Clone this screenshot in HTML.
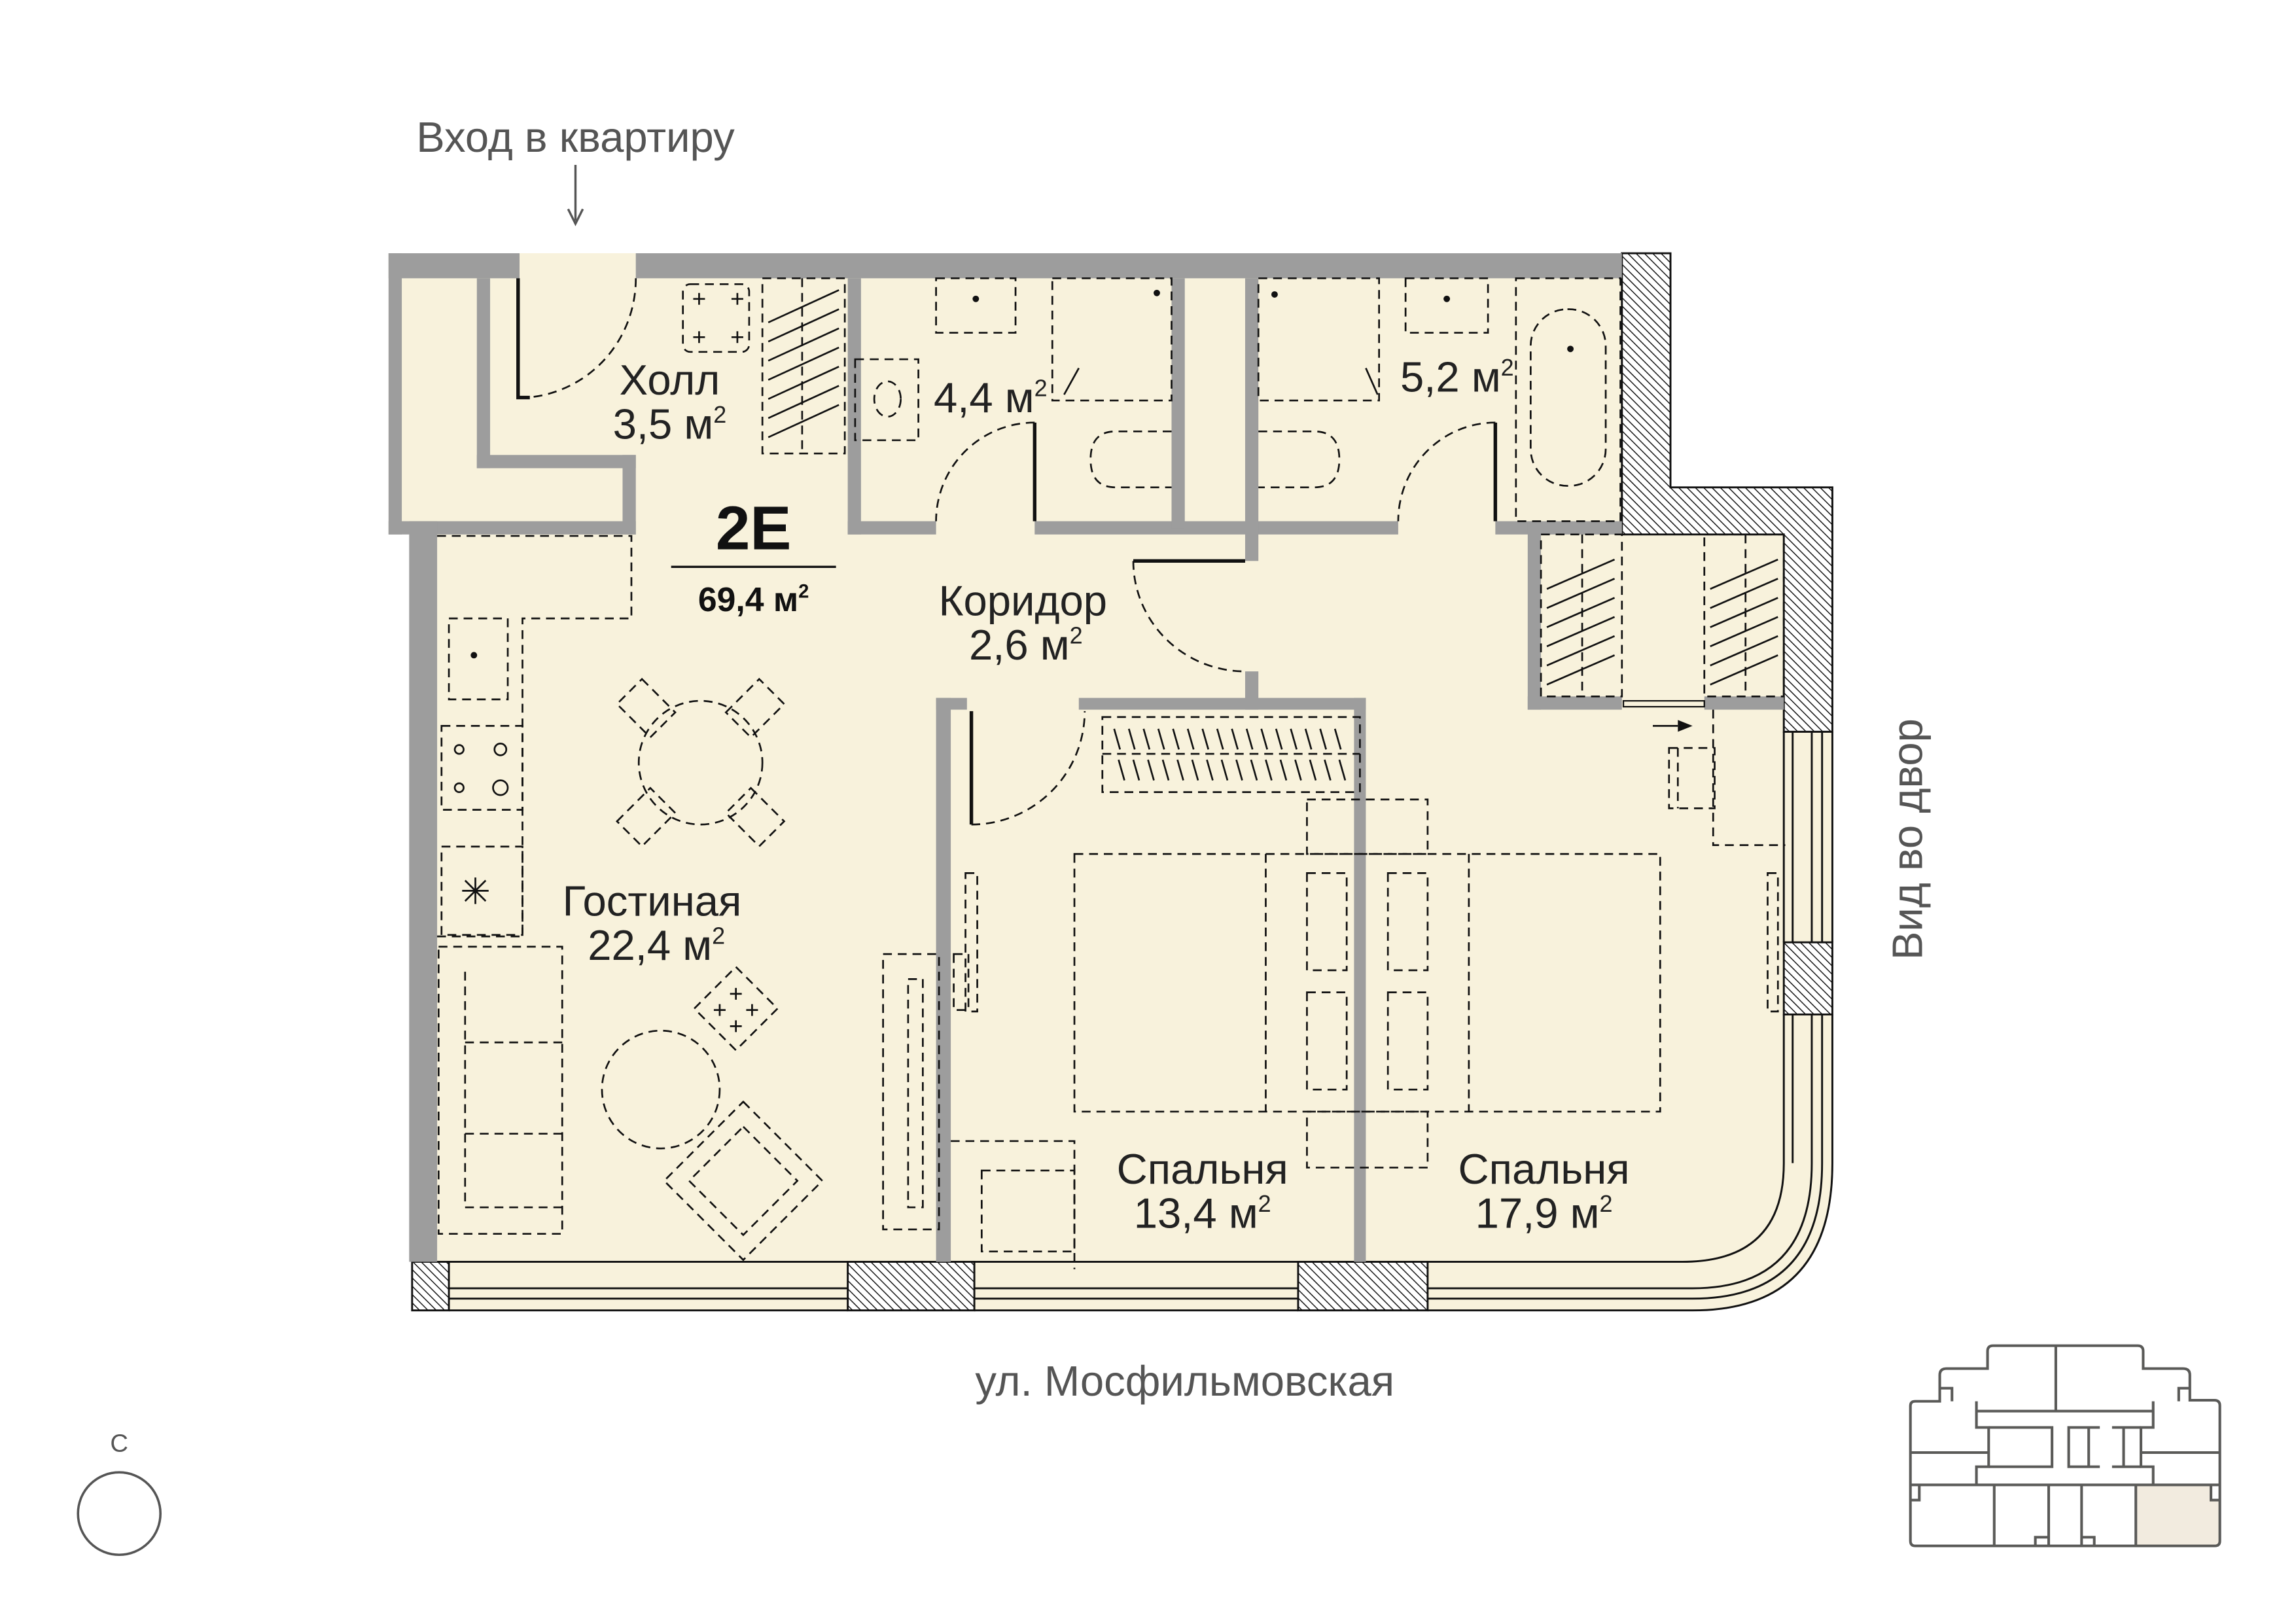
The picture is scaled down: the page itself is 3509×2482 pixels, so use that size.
<!DOCTYPE html>
<html><head><meta charset="utf-8"><style>
html,body{margin:0;padding:0;background:#fff;}
#wrap{position:relative;width:3509px;height:2482px;overflow:hidden;background:#fff;}
svg{position:absolute;}
text{font-family:"Liberation Sans","DejaVu Sans",sans-serif;}
</style></head><body><div id="wrap">
<svg style="left:0;top:0" width="3509" height="2482" viewBox="0 0 1560 1103" preserveAspectRatio="none">
<defs>
<pattern id="h" patternUnits="userSpaceOnUse" width="4" height="4" patternTransform="rotate(-45)">
<rect width="4" height="4" fill="#fff"/><line x1="0" y1="0" x2="0" y2="4" stroke="#111" stroke-width="1.3"/></pattern>
</defs>
<path d="M264,172 H1110 V331 H1245 V790 Q1245,890 1150,890 H280 V362 H264 Z" fill="#f8f2dc"/>
<path d="M1102,172 H1135 V331 H1245 V497 H1212 V363 H1102 Z" fill="url(#h)" stroke="#111" stroke-width="1.3"/>
<rect x="1212" y="640" width="33" height="49" fill="url(#h)" stroke="#111" stroke-width="1.3"/>
<rect x="280" y="857" width="25" height="33" fill="url(#h)" stroke="#111" stroke-width="1.3"/>
<rect x="576" y="857" width="86" height="33" fill="url(#h)" stroke="#111" stroke-width="1.3"/>
<rect x="882" y="857" width="88" height="33" fill="url(#h)" stroke="#111" stroke-width="1.3"/>
<g fill="none" stroke="#111" stroke-width="1.3">
<path d="M305,857 H576 M662,857 H882 M970,857 H1143 Q1212,857 1212,790 V689 M1212,640 V497"/>
<path d="M305,875 H576 M662,875 H882 M970,875 H1150 Q1231,875 1231,790 V689 M1231,640 V497"/>
<path d="M305,882 H576 M662,882 H882 M970,882 H1150 Q1238,882 1238,790 V689 M1238,640 V497"/>
<path d="M305,890 H576 M662,890 H882 M970,890 H1150 Q1245,890 1245,790 V689 M1245,640 V497"/>
<path d="M1218,497 V640 M1218,689 V790"/>
</g>
<g fill="#9d9d9d">
<rect x="264" y="172" width="89" height="17"/>
<rect x="432" y="172" width="670" height="17"/>
<rect x="264" y="172" width="9" height="191"/>
<rect x="324" y="189" width="9" height="129"/>
<rect x="324" y="309" width="108" height="9"/>
<rect x="423" y="309" width="9" height="54"/>
<rect x="264" y="354" width="168" height="9"/>
<rect x="278" y="354" width="19" height="503"/>
<rect x="576" y="189" width="9" height="174"/>
<rect x="576" y="354" width="60" height="9"/>
<rect x="703" y="354" width="247" height="9"/>
<rect x="1016" y="354" width="86" height="9"/>
<rect x="796" y="189" width="9" height="170"/>
<rect x="846" y="189" width="9" height="192"/>
<rect x="846" y="456" width="9" height="26"/>
<rect x="733" y="474" width="195" height="8"/>
<rect x="636" y="474" width="21" height="8"/>
<rect x="636" y="474" width="10" height="383"/>
<rect x="920" y="474" width="8" height="383"/>
<rect x="1038" y="354" width="9" height="128"/>
<rect x="1038" y="473" width="64" height="9"/>
<rect x="1158" y="473" width="54" height="9"/>
</g>
<rect x="1103" y="476" width="55" height="4" fill="#f8f2dc" stroke="#111" stroke-width="1"/>
<g stroke="#111" stroke-width="2.4" fill="none">
<path d="M352,189 V270 H360"/>
<path d="M703,287 V354"/>
<path d="M1016,287 V354"/>
<path d="M770,381 H846"/>
<path d="M660,483 V560"/>
</g>
<g stroke="#111" stroke-width="1.2" fill="none" stroke-dasharray="6,4">
<path d="M432,189 A80,81 0 0 1 358,270"/>
<path d="M703,287 A67,67 0 0 0 636,354"/>
<path d="M1016,287 A66,67 0 0 0 950,354"/>
<path d="M770,381 A76,75 0 0 0 846,456"/>
<path d="M660,560 A77,77 0 0 0 737,483"/>
<rect x="464" y="193" width="45" height="46" rx="5"/>
<rect x="518" y="189" width="56" height="119"/>
<line x1="545" y1="189" x2="545" y2="308"/>
<path d="M297,364 H429 V420 H355 V636 H297"/>
<rect x="305" y="420" width="40" height="55"/>
<rect x="300" y="493" width="55" height="57"/>
<rect x="300" y="575" width="55" height="60"/>
<rect x="636" y="189" width="54" height="37"/>
<rect x="581" y="244" width="43" height="55"/>
<ellipse cx="603" cy="271" rx="9" ry="12"/>
<rect x="715" y="189" width="81" height="83"/>
<path d="M796,293 H758 Q741,293 741,312 Q741,331 758,331 H796"/>
<rect x="855" y="189" width="82" height="83"/>
<rect x="955" y="189" width="56" height="37"/>
<path d="M855,293 H893 Q910,293 910,312 Q910,331 893,331 H855"/>
<rect x="1030" y="189" width="71" height="165"/>
<rect x="1040" y="210" width="51" height="120" rx="25"/>
<rect x="1047" y="363" width="55" height="110"/>
<line x1="1075" y1="363" x2="1075" y2="473"/>
<rect x="1158" y="363" width="54" height="110"/>
<line x1="1186" y1="363" x2="1186" y2="473"/>
<path d="M1164,482 V574 H1213"/>
<rect x="1134" y="508" width="31" height="41"/>
<line x1="1140" y1="508" x2="1140" y2="549"/>
<circle cx="476" cy="518" r="42"/>
<circle cx="449" cy="740" r="40"/>
<rect x="298" y="643" width="84" height="195"/>
<path d="M316,660 V820 H382 M316,708 H382 M316,770 H382"/>
<rect x="600" y="648" width="38" height="187"/>
<rect x="617" y="665" width="10" height="155"/>
<rect x="648" y="648" width="10" height="38"/>
<g transform="translate(505,802) rotate(45)"><rect x="-38" y="-38" width="76" height="76"/><rect x="-26" y="-26" width="52" height="52"/></g>
<g transform="translate(500,685) rotate(45)"><rect x="-20" y="-20" width="40" height="40"/></g>
<g transform="translate(439,481) rotate(45)"><rect x="-16" y="-12" width="32" height="24"/></g>
<g transform="translate(513,481) rotate(-45)"><rect x="-16" y="-12" width="32" height="24"/></g>
<g transform="translate(439,555) rotate(-45)"><rect x="-16" y="-12" width="32" height="24"/></g>
<g transform="translate(513,555) rotate(45)"><rect x="-16" y="-12" width="32" height="24"/></g>
<rect x="749" y="487" width="175" height="51"/>
<line x1="749" y1="512" x2="924" y2="512"/>
<rect x="888" y="543" width="82" height="37"/>
<rect x="730" y="580" width="398" height="175"/>
<line x1="860" y1="580" x2="860" y2="755"/>
<line x1="998" y1="580" x2="998" y2="755"/>
<rect x="888" y="593" width="27" height="66"/>
<rect x="888" y="674" width="27" height="66"/>
<rect x="943" y="593" width="27" height="66"/>
<rect x="943" y="674" width="27" height="66"/>
<rect x="888" y="755" width="82" height="38"/>
<path d="M646,775 H730 V862"/>
<rect x="667" y="795" width="63" height="55"/>
<rect x="656" y="593" width="8" height="94"/>
<rect x="1201" y="593" width="7" height="94"/>
</g>
<g stroke="#111" stroke-width="1.2" fill="none">
<path d="M471,203 h8 M475,199 v8 M497,203 h8 M501,199 v8 M471,229 h8 M475,225 v8 M497,229 h8 M501,225 v8"/>
<path d="M522,245 l48,-22 M522,258 l48,-22 M522,271 l48,-22 M522,284 l48,-22 M522,297 l48,-22 M522,232 l48,-22 M522,219 l48,-22"/>
<path d="M1051,400 l46,-20 M1051,413 l46,-20 M1051,426 l46,-20 M1051,439 l46,-20 M1051,452 l46,-20 M1051,465 l46,-20"/>
<path d="M1162,400 l46,-20 M1162,413 l46,-20 M1162,426 l46,-20 M1162,439 l46,-20 M1162,452 l46,-20 M1162,465 l46,-20"/>
<path d="M757,495 l4,14 M767,495 l4,14 M777,495 l4,14 M787,495 l4,14 M797,495 l4,14 M807,495 l4,14 M817,495 l4,14 M827,495 l4,14 M837,495 l4,14 M847,495 l4,14 M857,495 l4,14 M867,495 l4,14 M877,495 l4,14 M887,495 l4,14 M897,495 l4,14 M907,495 l4,14"/>
<path d="M760,516 l4,14 M770,516 l4,14 M780,516 l4,14 M790,516 l4,14 M800,516 l4,14 M810,516 l4,14 M820,516 l4,14 M830,516 l4,14 M840,516 l4,14 M850,516 l4,14 M860,516 l4,14 M870,516 l4,14 M880,516 l4,14 M890,516 l4,14 M900,516 l4,14 M910,516 l4,14"/>
<path d="M316,598 l14,14 M330,598 l-14,14 M323,596 v18 M314,605 h18"/>
<circle cx="312" cy="509" r="3"/><circle cx="340" cy="509" r="4"/><circle cx="312" cy="535" r="3"/><circle cx="340" cy="535" r="5"/>
<path d="M485,686 h8 M489,682 v8 M507,686 h8 M511,682 v8 M496,675 h8 M500,671 v8 M496,697 h8 M500,693 v8"/>
<path d="M733,250 l-10,18 M928,250 l8,18"/>
<path d="M1123,493 H1140"/>
</g>
<path d="M1140,489 L1150,493 L1140,497 Z" fill="#111"/>
<g fill="#111"><circle cx="322" cy="445" r="2.2"/><circle cx="663" cy="203" r="2.2"/><circle cx="786" cy="199" r="2.2"/><circle cx="866" cy="200" r="2.2"/><circle cx="983" cy="203" r="2.2"/><circle cx="1067" cy="237" r="2.2"/></g>
<line x1="391" y1="112" x2="391" y2="150" stroke="#555" stroke-width="1.5"/>
<path d="M386,142 L391,152 L396,142" fill="none" stroke="#555" stroke-width="1.5"/>
<g fill="#222" font-size="29" text-anchor="middle">
<text x="391" y="103" fill="#555">Вход в квартиру</text>
<text x="455" y="268">Холл</text>
<text x="455" y="298">3,5 м<tspan font-size="16" dy="-11">2</tspan></text>
<text x="673" y="280">4,4 м<tspan font-size="16" dy="-11">2</tspan></text>
<text x="990" y="266">5,2 м<tspan font-size="16" dy="-11">2</tspan></text>
<text x="695" y="418">Коридор</text>
<text x="697" y="448">2,6 м<tspan font-size="16" dy="-11">2</tspan></text>
<text x="443" y="622">Гостиная</text>
<text x="446" y="652">22,4 м<tspan font-size="16" dy="-11">2</tspan></text>
<text x="817" y="804">Спальня</text>
<text x="817" y="834">13,4 м<tspan font-size="16" dy="-11">2</tspan></text>
<text x="1049" y="804">Спальня</text>
<text x="1049" y="834">17,9 м<tspan font-size="16" dy="-11">2</tspan></text>
<text x="805" y="948" fill="#555">ул. Мосфильмовская</text>
<text transform="translate(1306,570) rotate(-90)" fill="#555">Вид во двор</text>
<text x="512" y="373" font-size="42" font-weight="bold" fill="#111">2E</text>
<text x="512" y="415" font-size="23" font-weight="bold" fill="#111">69,4 м<tspan font-size="13" dy="-9">2</tspan></text>
<text x="81" y="986" font-size="17" fill="#555">С</text>
</g>
<line x1="456" y1="385" x2="568" y2="385" stroke="#111" stroke-width="1.5"/>
<circle cx="81" cy="1028" r="28" fill="none" stroke="#555" stroke-width="1.6"/>
</svg>
<svg style="left:2900px;top:2040px" width="530" height="370" viewBox="0 0 1560 1110" preserveAspectRatio="none">
<path d="M1072,688 H1410 V758 H1450 V945 Q1450,968 1427,968 H1072 Z" fill="#f2ebdf"/>
<g fill="none" stroke="#5a5a58" stroke-width="12">
<path d="M405,155 V75 Q405,50 430,50 H1080 Q1105,50 1105,75 V155 H1285 Q1315,155 1315,185 V300 H1425 Q1450,300 1450,325 V945 Q1450,968 1427,968 H80 Q58,968 58,945 V325 Q58,305 80,305 H190 V185 Q190,155 220,155 Z"/>
<path d="M712,50 V350"/>
<path d="M355,305 V425 H410 V605 H355 V688"/>
<path d="M1150,305 V425 H1095 V605 H1150 V688"/>
<path d="M355,350 H1150 M58,688 H1450 M58,540 H410 M1095,540 H1450"/>
<path d="M410,425 H695 V605 H410"/>
<path d="M910,425 H770 V605 H910 M860,425 V605"/>
<path d="M965,425 H1095 M965,605 H1095 M1017,425 V605"/>
<path d="M435,688 V968 M680,688 V968 M828,688 V968 M1072,688 V968"/>
<path d="M190,245 H245 V305 M1315,245 H1265 V305"/>
<path d="M58,758 H98 V688 M1450,758 H1410 V688"/>
<path d="M620,968 V928 H680 M828,928 H885 V968"/>
</g>
</svg>
</div></body></html>
